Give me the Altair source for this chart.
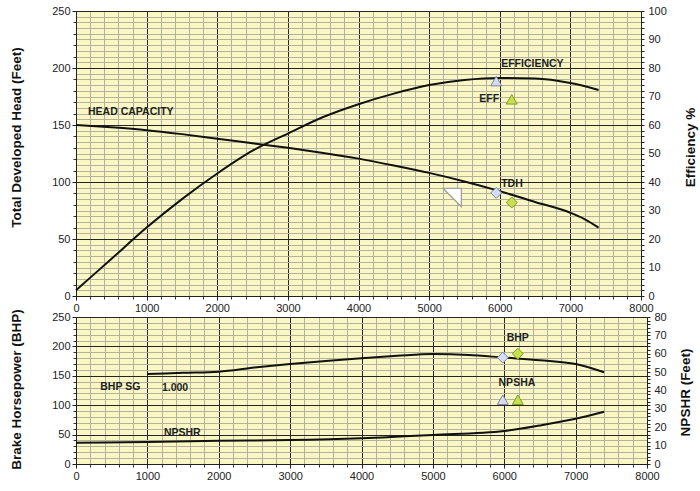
import altair as alt
import pandas as pd

FONT = "Liberation Sans"
BG = "#FAF7C4"
MAJOR = "#262626"
MINOR = "#B3B29C"
INK = "#1e1e1e"

# ---------------- data ----------------
# top panel: head-capacity curve (feet, left axis)
flow_head = [0, 500, 1000, 1500, 2000, 2500, 3000, 3500, 4000, 4500, 5000, 5500, 6000, 6500, 7000, 7200, 7400]
head_ft = [150, 148, 145.5, 142, 138, 134, 130, 125.5, 120.5, 114.5, 108, 100.5, 92, 82.5, 73, 67.5, 60]

# top panel: efficiency curve (%, right axis)
flow_eff = [0, 500, 1000, 1500, 2000, 2500, 3000, 3500, 4000, 4500, 5000, 5500, 6000, 6500, 7000, 7400]
eff_pct = [2, 13, 24, 34, 43, 51, 57, 62.8, 67.3, 71, 74, 75.8, 76.5, 76.3, 74.7, 72.3]

# bottom panel: BHP curve (left axis)
flow_bhp = [1000, 1500, 2000, 2500, 3000, 3500, 4000, 4500, 5000, 5500, 6000, 6500, 7000, 7400]
bhp = [153, 155, 157, 164, 170, 175, 180, 184, 187, 185.5, 181, 176.5, 170, 156]

# bottom panel: NPSHR curve (feet, right axis)
flow_npshr = [0, 1000, 2000, 3000, 4000, 5000, 6000, 6500, 7000, 7400]
npshr_ft = [11.5, 12, 12.6, 13, 14, 15.8, 18, 21, 24.6, 28.4]

# point markers
mk_series = ["curve", "test"]
eff_mk_flow = [5950, 6170]
eff_mk_pct = [75.4, 69.0]
tdh_mk_flow = [5950, 6170]
tdh_mk_ft = [90.4, 82.0]
hollow_flow = [5326]
hollow_ft = [86.4]
bhp_mk_flow = [5980, 6190]
bhp_mk_val = [181, 187.5]
npsha_mk_flow = [5980, 6190]
npsha_mk_ft = [35, 35]

# text labels
top_lbl_text = ["HEAD CAPACITY", "EFFICIENCY", "EFF", "TDH"]
top_lbl_flow = [170, 6020, 5710, 6020]
top_lbl_ft = [161.4, 203.5, 172.8, 98.0]
bot_lbl_text = ["BHP", "NPSHA", "BHP  SG", "1.000", "NPSHR"]
bot_lbl_flow = [6034, 5920, 340, 1204, 1232]
bot_lbl_val = [215, 138, 131, 130, 53]

x_major = list(range(0, 8001, 1000))
x_minor = list(range(0, 8001, 200))

# ---------------- helpers ----------------
XS = alt.Scale(domain=[0, 8000], nice=False, zero=False)


def sc(lo, hi):
    return alt.Scale(domain=[lo, hi], nice=False, zero=False)


def x_axis_minor():
    return alt.Axis(orient="bottom", values=x_minor, grid=True, gridColor=MINOR, gridWidth=1, labels=False,
                    ticks=True, tickSize=3, tickColor="#333", domain=False, title=None)


def x_axis_major():
    return alt.Axis(orient="bottom", values=x_major, format="d", grid=True, gridColor=MAJOR, gridWidth=1,
                    labels=True, labelFont=FONT, labelFontSize=11, labelColor="#222", labelPadding=2,
                    labelFlush=False, labelOverlap=False, tickSize=4, tickColor="#222",
                    domain=True, domainColor="#222", title=None)


def y_axis_minor(step, top):
    return alt.Axis(orient="left", values=list(range(0, top + 1, step)), grid=True, gridColor=MINOR,
                    gridWidth=1, labels=False, ticks=True, tickSize=3, tickColor="#333",
                    tickOpacity={"condition": {"test": "datum.value % 10 == 0", "value": 1}, "value": 0},
                    domain=False, title=None)


def y_axis_left(top, title, ty):
    return alt.Axis(orient="left", values=list(range(0, top + 1, 50)), format="d", grid=True,
                    gridColor=MAJOR, gridWidth=1,
                    labelFont=FONT, labelFontSize=11, labelColor="#222", labelPadding=2,
                    labelFlush=False, labelOverlap=False, tickSize=4, tickColor="#222",
                    domain=True, domainColor="#222", title=title, titleFont=FONT,
                    titleFontSize=13.5, titleFontWeight="bold", titleColor="#111",
                    titleX=-60, titleY=ty, titleAngle=270, titleBaseline="middle", titleAlign="center")


def y_axis_right(top, title, tx, ty):
    return alt.Axis(orient="right", values=list(range(0, top + 1, 2)), format="d", grid=False,
                    labelExpr="datum.value % 10 == 0 ? datum.label : ''",
                    labelFont=FONT, labelFontSize=11, labelColor="#222", labelPadding=4,
                    labelFlush=False, labelOverlap=False, tickSize=3, tickColor="#222",
                    domain=True, domainColor="#222", title=title, titleFont=FONT,
                    titleFontSize=13.5, titleFontWeight="bold", titleColor="#111",
                    titleX=tx, titleY=ty, titleAngle=270, titleBaseline="middle", titleAlign="center")


def curve(df, ysc, yaxis, xaxis=None):
    return alt.Chart(df).mark_line(color="#111", strokeWidth=2, interpolate="monotone").encode(
        x=alt.X("q:Q", scale=XS, axis=xaxis),
        y=alt.Y("v:Q", scale=ysc, axis=yaxis),
    )


def markers(df, ysc, shape, fills, strokes, size):
    return alt.Chart(df).mark_point(shape=shape, filled=True, size=size, strokeWidth=1, opacity=1).encode(
        x=alt.X("q:Q", scale=XS, axis=None),
        y=alt.Y("v:Q", scale=ysc, axis=None),
        fill=alt.Fill("s:N", scale=alt.Scale(domain=mk_series, range=fills), legend=None),
        stroke=alt.Stroke("s:N", scale=alt.Scale(domain=mk_series, range=strokes), legend=None),
    )


def labels(df, ysc):
    return alt.Chart(df).mark_text(align="left", baseline="middle", font=FONT, fontSize=10.5,
                                   fontWeight="bold", color=INK).encode(
        x=alt.X("q:Q", scale=XS, axis=None),
        y=alt.Y("v:Q", scale=ysc, axis=None),
        text="t:N",
    )


LAV_FILL, LAV_STROKE = "#C9C6EC", "#6E6E9E"
GRN_FILL, GRN_STROKE = "#D9E85C", "#7E8E1E"
DIA_LAV_FILL, DIA_LAV_STROKE = "#D6DDF2", "#7A86A8"
DIA_GRN_FILL, DIA_GRN_STROKE = "#C6E04E", "#7E9A22"

# ---------------- top panel ----------------
df_head = pd.DataFrame({"q": flow_head, "v": head_ft})
df_eff = pd.DataFrame({"q": flow_eff, "v": eff_pct})

grid_top = alt.Chart(df_head).mark_line(opacity=0).encode(
    x=alt.X("q:Q", scale=XS, axis=x_axis_minor()),
    y=alt.Y("v:Q", scale=sc(0, 250), axis=y_axis_minor(5, 250)),
)
head_line = curve(df_head, sc(0, 250), y_axis_left(250, "Total Developed Head (Feet)", 126), x_axis_major())
eff_line = curve(df_eff, sc(0, 100), y_axis_right(100, "Efficiency %", 49, 136))
eff_mk = markers(pd.DataFrame({"q": eff_mk_flow, "v": eff_mk_pct, "s": mk_series}), sc(0, 100),
                 "triangle-up", [LAV_FILL, GRN_FILL], [LAV_STROKE, GRN_STROKE], 120)
tdh_mk = markers(pd.DataFrame({"q": tdh_mk_flow, "v": tdh_mk_ft, "s": mk_series}), sc(0, 250),
                 "diamond", [DIA_LAV_FILL, DIA_GRN_FILL], [DIA_LAV_STROKE, DIA_GRN_STROKE], 120)
hollow = alt.Chart(pd.DataFrame({"q": hollow_flow, "v": hollow_ft})).mark_point(
    shape="M -1 -1 L 1 -1 L 1 1 Z", filled=True, fill="white", stroke="#a0a0a0",
    strokeWidth=1.3, size=340, opacity=1).encode(
    x=alt.X("q:Q", scale=XS, axis=None),
    y=alt.Y("v:Q", scale=sc(0, 250), axis=None),
)
top_text = labels(pd.DataFrame({"q": top_lbl_flow, "v": top_lbl_ft, "t": top_lbl_text}), sc(0, 250))

top = alt.layer(grid_top, head_line, eff_line, hollow, tdh_mk, eff_mk, top_text).resolve_scale(
    y="independent").resolve_axis(x="independent", y="independent").properties(width=565, height=285)

# ---------------- bottom panel ----------------
df_bhp = pd.DataFrame({"q": flow_bhp, "v": bhp})
df_npshr = pd.DataFrame({"q": flow_npshr, "v": npshr_ft})

grid_bot = alt.Chart(df_bhp).mark_line(opacity=0).encode(
    x=alt.X("q:Q", scale=XS, axis=x_axis_minor()),
    y=alt.Y("v:Q", scale=sc(0, 250), axis=y_axis_minor(10, 250)),
)
bhp_line = curve(df_bhp, sc(0, 250), y_axis_left(250, "Brake Horsepower (BHP)", 72), x_axis_major())
npshr_line = curve(df_npshr, sc(0, 80), y_axis_right(80, "NPSHR (Feet)", 38, 75))
bhp_mk = markers(pd.DataFrame({"q": bhp_mk_flow, "v": bhp_mk_val, "s": mk_series}), sc(0, 250),
                 "diamond", [DIA_LAV_FILL, DIA_GRN_FILL], [DIA_LAV_STROKE, DIA_GRN_STROKE], 120)
npsha_mk = markers(pd.DataFrame({"q": npsha_mk_flow, "v": npsha_mk_ft, "s": mk_series}), sc(0, 80),
                   "triangle-up", [LAV_FILL, GRN_FILL], [LAV_STROKE, GRN_STROKE], 120)
bot_text = labels(pd.DataFrame({"q": bot_lbl_flow, "v": bot_lbl_val, "t": bot_lbl_text}), sc(0, 250))

bottom = alt.layer(grid_bot, bhp_line, npshr_line, bhp_mk, npsha_mk, bot_text).resolve_scale(
    y="independent").resolve_axis(x="independent", y="independent").properties(width=571, height=147)

chart = alt.vconcat(top, bottom, spacing=21, bounds="flush").properties(
    padding={"left": 8, "top": 4, "right": 2, "bottom": 4},
    background="white",
).configure_view(fill=BG, stroke=MAJOR, strokeWidth=1)

chart.save("out.html", embed_options={"renderer": "svg", "actions": False})
